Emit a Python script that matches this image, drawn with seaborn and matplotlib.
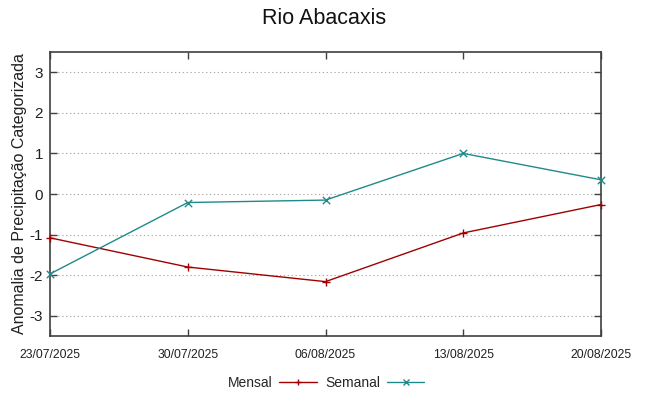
import matplotlib
matplotlib.use("Agg")
import matplotlib.pyplot as plt
import seaborn as sns
import pandas as pd
from matplotlib.lines import Line2D

dates = ["23/07/2025", "30/07/2025", "06/08/2025", "13/08/2025", "20/08/2025"]
mensal = [-1.08, -1.80, -2.16, -0.96, -0.26]
semanal = [-1.97, -0.21, -0.15, 1.00, 0.35]
series_names = ["Mensal", "Semanal"]
colors = ["#a00000", "#208a8a"]
markers = ["+", "x"]
yticks = [-3, -2, -1, 0, 1, 2, 3]

sns.set_theme(style="white")
plt.rcParams["font.family"] = ["Liberation Sans", "DejaVu Sans"]

x = pd.to_datetime(dates, format="%d/%m/%Y")

fig = plt.figure(figsize=(6.48, 3.96), dpi=100)
ax = fig.add_axes([50 / 648, 1 - 336 / 396, 551 / 648, 284 / 396])

for name, vals, c, m in zip(series_names, [mensal, semanal], colors, markers):
    d = pd.DataFrame({"data": x, "valor": vals})
    sns.lineplot(data=d, x="data", y="valor", color=c, linewidth=1.0, ax=ax,
                 legend=False, clip_on=False, zorder=3)
    sns.scatterplot(data=d, x="data", y="valor", color=c, marker=m, s=28,
                    linewidth=1.0, ax=ax, legend=False, clip_on=False, zorder=4)

ax.set_xlim(x[0], x[-1])
ax.set_ylim(-3.5, 3.5)
ax.set_xticks(x)
ax.set_xticklabels(dates, fontsize=8.7)
ax.set_yticks(yticks)
ax.set_yticklabels([str(v) for v in yticks], fontsize=11)
ax.set_xlabel("")
ax.set_ylabel("Anomalia de Precipitação Categorizada", fontsize=11.5, color="#202020")
ax.yaxis.set_label_coords(-0.042, 0.5)

for yv in yticks:
    ax.axhline(yv, color="#aaaaaa", linestyle=(0, (1.2, 2.3)), linewidth=0.8, zorder=0)

for sp in ax.spines.values():
    sp.set_color("#404040")
    sp.set_linewidth(1.2)
ax.tick_params(axis="both", direction="in", length=5, width=1, color="#404040",
               top=True, right=True, bottom=True, left=True, labelcolor="#202020")
ax.tick_params(axis="x", pad=9)
ax.tick_params(axis="y", pad=5)

fig.suptitle("Rio Abacaxis", fontsize=15.5, y=1 - 18 / 396, va="center", color="#111111")

handles = [Line2D([], [], color=c, marker=m, markersize=5, linewidth=1.0)
           for c, m in zip(colors, markers)]
fig.legend(handles, series_names, loc="center", bbox_to_anchor=(0.503, 1 - 383 / 396),
           ncol=2, frameon=False, markerfirst=False, fontsize=10,
           handlelength=2.7, handletextpad=0.5, columnspacing=0.6)

fig.savefig("out.png", dpi=100)
